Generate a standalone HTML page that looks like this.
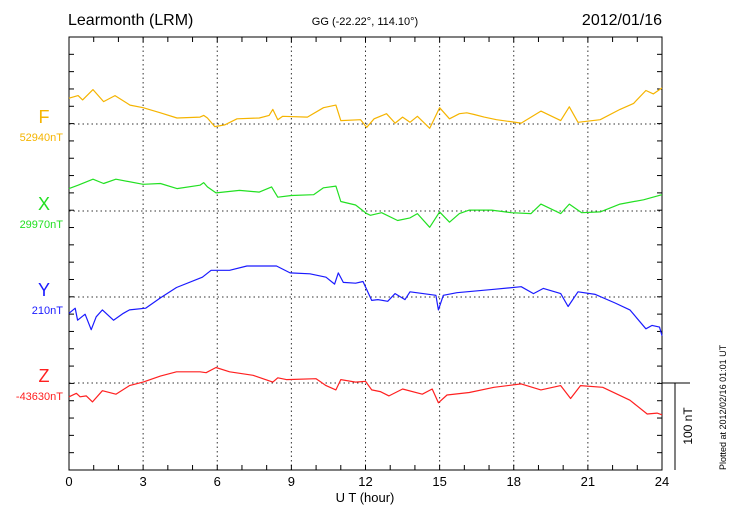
<!DOCTYPE html>
<html><head><meta charset="utf-8"><style>
body{margin:0;background:#fff;}
svg{display:block;font-family:"Liberation Sans",sans-serif;}
</style></head><body>
<svg id="c" width="730" height="520">
<text x="68" y="25" font-size="16">Learmonth (LRM)</text>
<text x="365" y="25" font-size="11" text-anchor="middle">GG (-22.22°, 114.10°)</text>
<text x="662" y="25" font-size="16" text-anchor="end">2012/01/16</text>
<text x="365" y="502" font-size="13" text-anchor="middle">U T (hour)</text>
<text transform="translate(726,470) rotate(-90)" font-size="9">Plotted at 2012/02/16 01:01  UT</text>
<text transform="translate(692,426) rotate(-90)" font-size="12" text-anchor="middle">100 nT</text>
</svg>
<script>
const hoursF=[0,0.37,0.55,0.97,1.4,1.86,2.47,3,3.7,4.37,5.3,5.45,5.6,5.9,6.3,6.8,7.7,8.1,8.25,8.45,8.65,9.65,10.3,10.8,11.0,11.8,12.05,12.35,12.85,13.2,13.5,13.8,14.1,14.6,15.0,15.4,15.8,16.1,16.4,16.8,17.3,18.3,19.1,19.9,20.25,20.6,21.5,22.3,22.85,23.35,23.65,24];
const valsF=[30,33,28,40,26,33,22,19,13,7,8,10,7,-3,-1,6,7,10,17,5,9,8,19,22,4,5,-4,6,12,1,8,2,9,-5,19,6,12,13,11,8,5,1,15,4,20,2,5,17,24,39,35,42];
const hoursX=[0,0.37,0.97,1.4,1.9,3,3.7,4.37,5.3,5.45,5.6,5.95,6.9,7.7,8.2,8.45,9.0,9.9,10.3,10.8,11.0,11.6,12.05,12.2,12.65,13.3,13.8,14.1,14.6,15.0,15.4,15.8,16.2,17.1,17.9,18.7,19.1,19.9,20.25,20.75,21.5,22.3,23.25,24];
const valsX=[26,30,37,32,37,31,32,26,30,33,28,21,24,22,28,16,18,19,27,29,11,7,-3,-5,-2,-11,-8,-3,-19,-1,-13,-3,1,1,-2,-3,8,-3,8,-2,-1,8,13,19];
const hoursY=[0,0.25,0.35,0.65,0.9,1.1,1.35,1.8,2.2,2.45,3.1,3.7,4.35,5.4,5.75,6.5,7.2,8.4,8.95,9.75,10.4,10.75,10.9,11.1,11.6,11.9,12.25,12.5,12.9,13.2,13.6,13.8,14.85,14.95,15.15,15.7,17.2,18.3,18.8,19.2,19.9,20.2,20.6,21.3,22.1,22.7,23.35,23.6,23.9,24];
const valsY=[-19,-13,-27,-20,-38,-23,-15,-27,-19,-15,-13,-1,11,23,31,31,36,36,28,27,23,15,28,17,16,18,-4,-3,-5,4,-3,6,2,-15,2,5,9,12,4,10,4,-11,6,3,-7,-15,-37,-33,-35,-45];
const hoursZ=[0,0.3,0.45,0.7,0.95,1.35,1.9,2.45,3.0,3.7,4.35,5.3,5.55,5.95,6.5,7.45,8.25,8.45,8.8,10.0,10.4,10.8,11.0,11.6,12.0,12.25,12.6,12.95,13.5,14.3,14.7,14.95,15.3,16.2,17.2,18.3,19.1,19.9,20.3,20.7,21.6,22.7,23.4,23.8,24];
const valsZ=[-16,-12,-16,-15,-22,-9,-13,-3,1,8,13,13,12,18,13,9,1,6,4,5,-3,-8,4,1,2,-8,-10,-15,-7,-13,-7,-23,-14,-11,-5,-1,-8,-3,-18,-3,-5,-20,-36,-35,-37];
const compNames=["F","X","Y","Z"];
const baseLabels=["52940nT","29970nT","210nT","-43630nT"];
const colors=["#f5b400","#22e022","#1a1aff","#ff2020"];
const xTicks=[0,3,6,9,12,15,18,21,24];

const L=69,R=662,T=37,B=470;
const baseY=[124,211,297,383];
const pxPerNT=0.86;
const xs=h=>L+(R-L)*h/24;
const ys=(i,v)=>baseY[i]-v*pxPerNT;
const svg=document.getElementById('c');
const NS='http://www.w3.org/2000/svg';
function mk(tag,attrs){const e=document.createElementNS(NS,tag);for(const k in attrs)e.setAttribute(k,attrs[k]);svg.appendChild(e);return e;}

// grid verticals
for(let k=1;k<xTicks.length-1;k++){const e=mk('line',{x1:xs(xTicks[k]),x2:xs(xTicks[k]),y1:T,y2:B,stroke:'#333','stroke-dasharray':'1.5,3','stroke-width':1});

}
// baseline refs
for(let i=0;i<4;i++){const e=mk('line',{x1:L,x2:R,y1:baseY[i],y2:baseY[i],stroke:'#333','stroke-dasharray':'1.5,3','stroke-width':1});

}
// frame
const fr=mk('rect',{x:L,y:T,width:R-L,height:B-T,fill:'none',stroke:'#000','stroke-width':1});


// hour ticks
for(let h=0;h<=24;h++){const x=xs(h);
const a=mk('line',{x1:x,x2:x,y1:T,y2:T+5,stroke:'#000'});


const b=mk('line',{x1:x,x2:x,y1:B,y2:B-5,stroke:'#000'});

}
// y ticks
const step=(B-T)/25;
for(let k=1;k<25;k++){const y=T+k*step;
const a=mk('line',{x1:L,x2:L+5,y1:y,y2:y,stroke:'#000'});


const b=mk('line',{x1:R,x2:R-5,y1:y,y2:y,stroke:'#000'});

}
// x tick labels
xTicks.forEach(h=>{const t=mk('text',{x:xs(h),y:486,'font-size':13,'text-anchor':'middle'});t.textContent=h;

});
// scale bar
const s1=mk('line',{x1:R,x2:690,y1:383,y2:383,stroke:'#000'});


const s2=mk('line',{x1:675,x2:675,y1:383,y2:B,stroke:'#000'});


// series
const H=[hoursF,hoursX,hoursY,hoursZ],V=[valsF,valsX,valsY,valsZ];
for(let i=0;i<4;i++){
 const d=H[i].map((h,j)=>(j?'L':'M')+xs(h).toFixed(1)+','+ys(i,V[i][j]).toFixed(1)).join(' ');
 const p=mk('path',{d:d,fill:'none',stroke:colors[i],'stroke-width':1.2,'stroke-linejoin':'round'});
 
 
 const t=mk('text',{x:44,y:baseY[i]-1,'font-size':18,'text-anchor':'middle',fill:colors[i]});t.textContent=compNames[i];
 
 
 const t2=mk('text',{x:63,y:baseY[i]+17,'font-size':11,'text-anchor':'end',fill:colors[i]});t2.textContent=baseLabels[i];
 
 
}
</script>
</body></html>
